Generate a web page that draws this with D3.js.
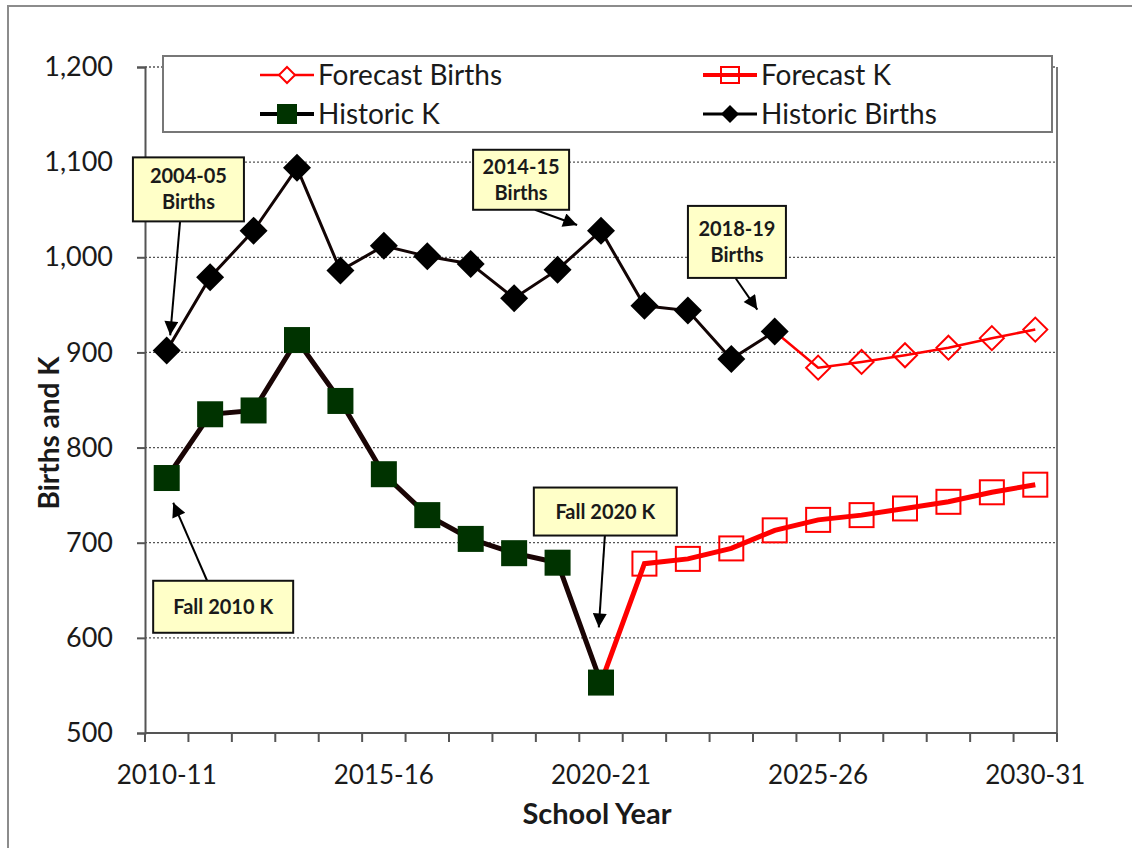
<!DOCTYPE html>
<html>
<head>
<meta charset="utf-8">
<script src="https://cdn.jsdelivr.net/npm/d3@7"></script>
<style>
  body { margin: 0; background: #fff; }
  text { font-family: Lato, "Open Sans", sans-serif; fill: #1a1a1a; }
</style>
</head>
<body>
<div id="vis-div"></div>
<script>
'use strict'

// school years on the x axis
const years = ["2010-11", "2011-12", "2012-13", "2013-14", "2014-15", "2015-16", "2016-17",
  "2017-18", "2018-19", "2019-20", "2020-21", "2021-22", "2022-23", "2023-24", "2024-25",
  "2025-26", "2026-27", "2027-28", "2028-29", "2029-30", "2030-31"]
const yearLabels = ["2010-11", "2015-16", "2020-21", "2025-26", "2030-31"]
const yTicks = [500, 600, 700, 800, 900, 1000, 1100, 1200]

// values
const historicBirths = [902, 979, 1028, 1094, 986, 1012, 1001, 993, 957, 987, 1028, 949, 944, 893, 922]
const forecastBirths = [884, 890, 897, 905, 915, 924]          // 2025-26 .. 2030-31
const historicK = [768, 835, 839, 913, 849, 772, 729, 704, 689, 679, 553]
const forecastK = [678, 683, 694, 713, 724, 729, 736, 743, 753, 761] // 2021-22 .. 2030-31

// callouts: box centre as a year index, top as a value; arrow from/to in the same units
const callouts = [
  { lines: ["2004-05", "Births"], at: 0.5, top: 1105, w: 111, h: 64, from: [0.31, 1039], to: [0.08, 918] },
  { lines: ["2014-15", "Births"], at: 8.16, top: 1113, w: 96, h: 60, from: [8.48, 1050], to: [9.45, 1034] },
  { lines: ["2018-19", "Births"], at: 13.13, top: 1054, w: 98, h: 72, from: [13.1, 978], to: [13.6, 945] },
  { lines: ["Fall 2010 K"], at: 1.3, top: 660, w: 140, h: 52, from: [0.93, 660], to: [0.15, 742] },
  { lines: ["Fall 2020 K"], at: 10.1, top: 758, w: 143, h: 48, from: [10.09, 708], to: [9.95, 611] }
]

const width = 1132, height = 848
const margin = { left: 145, right: 75, top: 67, bottom: 115 }

const svg = d3.select("#vis-div").append("svg")
  .attr("width", width)
  .attr("height", height)

// outer frame
svg.append("rect")
  .attr("x", 8).attr("y", 6)
  .attr("width", 1140).attr("height", 870)
  .attr("fill", "#fff")
  .attr("stroke", "#8c8c8c")
  .attr("stroke-width", 2)

const x = d3.scaleBand().domain(years).range([margin.left, width - margin.right])
const cx = d => x(d) + x.bandwidth() / 2
// same axis, by fractional year index (for annotations)
const xi = d3.scaleLinear().domain([-0.5, years.length - 0.5]).range([margin.left, width - margin.right])
const y = d3.scaleLinear().domain([500, 1200]).range([height - margin.bottom, margin.top])

// dotted gridlines
svg.append("g")
  .selectAll("line")
  .data(yTicks.filter(d => d > 500))
  .enter().append("line")
    .attr("x1", margin.left).attr("x2", width - margin.right)
    .attr("y1", d => y(d)).attr("y2", d => y(d))
    .attr("stroke", "#555")
    .attr("stroke-width", 1.3)
    .attr("stroke-dasharray", "2,2")

// y axis
const yAxis = svg.append("g")
  .attr("transform", "translate(" + margin.left + ",0)")
  .call(d3.axisLeft(y).tickValues(yTicks).tickFormat(d3.format(",")).tickSize(8).tickPadding(24))
yAxis.select(".domain").attr("stroke", "#555").attr("stroke-width", 2)
yAxis.selectAll(".tick line").attr("stroke", "#555").attr("stroke-width", 2)
yAxis.selectAll(".tick text").style("font-size", "27px").attr("fill", "#1a1a1a")

// right border of the plot
svg.append("line")
  .attr("x1", width - margin.right).attr("x2", width - margin.right)
  .attr("y1", margin.top).attr("y2", height - margin.bottom)
  .attr("stroke", "#777").attr("stroke-width", 2)

// x axis: ticks sit between categories
const xg = svg.append("g")
  .attr("transform", "translate(0," + (height - margin.bottom) + ")")
xg.append("line")
  .attr("x1", margin.left).attr("x2", width - margin.right)
  .attr("stroke", "#555").attr("stroke-width", 2)
xg.selectAll(".xtick")
  .data(d3.range(years.length + 1))
  .enter().append("line")
    .attr("class", "xtick")
    .attr("x1", d => xi(d - 0.5))
    .attr("x2", d => xi(d - 0.5))
    .attr("y1", 0).attr("y2", 9)
    .attr("stroke", "#555").attr("stroke-width", 2)
xg.selectAll(".xlabel")
  .data(yearLabels)
  .enter().append("text")
    .attr("x", d => cx(d))
    .attr("y", 51)
    .attr("text-anchor", "middle")
    .style("font-size", "26px")
    .text(d => d)

svg.append("text")
  .attr("x", 597).attr("y", 824)
  .attr("text-anchor", "middle")
  .style("font-size", "29px").style("font-weight", "bold")
  .text("School Year")

svg.append("text")
  .attr("transform", "translate(59,433) rotate(-90)")
  .attr("text-anchor", "middle")
  .style("font-size", "28px").style("font-weight", "bold")
  .text("Births and K")

// series points
const hb = historicBirths.map((v, i) => ({ year: years[i], value: v }))
const fb = forecastBirths.map((v, i) => ({ year: years[i + 15], value: v }))
const hk = historicK.map((v, i) => ({ year: years[i], value: v }))
const fk = forecastK.map((v, i) => ({ year: years[i + 11], value: v }))

const line = d3.line().x(d => cx(d.year)).y(d => y(d.value))
const diamond = r => "M0," + (-r) + "L" + r + ",0L0," + r + "L" + (-r) + ",0Z"

// forecast lines start at last historic point
svg.append("path")
  .datum([hb[hb.length - 1]].concat(fb))
  .attr("d", line)
  .attr("fill", "none").attr("stroke", "#ff0000").attr("stroke-width", 2.5)
svg.append("path")
  .datum([hk[hk.length - 1]].concat(fk))
  .attr("d", line)
  .attr("fill", "none").attr("stroke", "#ff0000").attr("stroke-width", 5)

svg.append("path")
  .datum(hb)
  .attr("d", line)
  .attr("fill", "none").attr("stroke", "#120404").attr("stroke-width", 3)
svg.append("path")
  .datum(hk)
  .attr("d", line)
  .attr("fill", "none").attr("stroke", "#1a0505").attr("stroke-width", 5)

svg.append("g").selectAll("path")
  .data(fb)
  .enter().append("path")
    .attr("transform", d => "translate(" + cx(d.year) + "," + y(d.value) + ")")
    .attr("d", diamond(12))
    .attr("fill", "none").attr("stroke", "#ff0000").attr("stroke-width", 2)

svg.append("g").selectAll("rect")
  .data(fk)
  .enter().append("rect")
    .attr("x", d => cx(d.year) - 12).attr("y", d => y(d.value) - 12)
    .attr("width", 24).attr("height", 24)
    .attr("fill", "none").attr("stroke", "#ff0000").attr("stroke-width", 2)

svg.append("g").selectAll("path")
  .data(hb)
  .enter().append("path")
    .attr("transform", d => "translate(" + cx(d.year) + "," + y(d.value) + ")")
    .attr("d", diamond(14))
    .attr("fill", "#000")

svg.append("g").selectAll("rect")
  .data(hk)
  .enter().append("rect")
    .attr("x", d => cx(d.year) - 13).attr("y", d => y(d.value) - 13)
    .attr("width", 26).attr("height", 26)
    .attr("fill", "#003300")

// legend
const lg = svg.append("g")
lg.append("rect")
  .attr("x", 163).attr("y", 56).attr("width", 889).attr("height", 76)
  .attr("fill", "#fff").attr("stroke", "#777").attr("stroke-width", 2)

const legendItems = [
  { name: "Forecast Births", lx: 260, ly: 75, color: "#ff0000", lw: 2.5, mark: "odiamond" },
  { name: "Forecast K", lx: 703, ly: 75, color: "#ff0000", lw: 4, mark: "osquare" },
  { name: "Historic K", lx: 260, ly: 114, color: "#000", lw: 4, mark: "square" },
  { name: "Historic Births", lx: 703, ly: 114, color: "#000", lw: 3, mark: "diamond" }
]
legendItems.forEach(function(d){
  lg.append("line")
    .attr("x1", d.lx).attr("x2", d.lx + 54)
    .attr("y1", d.ly).attr("y2", d.ly)
    .attr("stroke", d.color).attr("stroke-width", d.lw)
  const m = d.lx + 27
  if (d.mark == "odiamond") {
    lg.append("path").attr("transform", "translate(" + m + "," + d.ly + ")")
      .attr("d", diamond(8)).attr("fill", "#fff").attr("stroke", "#ff0000").attr("stroke-width", 2)
  } else if (d.mark == "osquare") {
    lg.append("rect").attr("x", m - 9).attr("y", d.ly - 8).attr("width", 18).attr("height", 16)
      .attr("fill", "none").attr("stroke", "#ff0000").attr("stroke-width", 2)
  } else if (d.mark == "square") {
    lg.append("rect").attr("x", m - 10).attr("y", d.ly - 10).attr("width", 20).attr("height", 20)
      .attr("fill", "#003300")
  } else {
    lg.append("path").attr("transform", "translate(" + m + "," + d.ly + ")")
      .attr("d", diamond(9)).attr("fill", "#000")
  }
  lg.append("text")
    .attr("x", d.lx + 58).attr("y", d.ly + 10)
    .style("font-size", "28px")
    .text(d.name)
})

// callouts with arrows
svg.append("defs").append("marker")
  .attr("id", "arrow")
  .attr("viewBox", "0 0 10 10")
  .attr("refX", 10).attr("refY", 5)
  .attr("markerWidth", 8).attr("markerHeight", 7)
  .attr("markerUnits", "strokeWidth")
  .attr("orient", "auto")
  .append("path").attr("d", "M0,0L10,5L0,10Z").attr("fill", "#000")

callouts.forEach(function(c){
  svg.append("line")
    .attr("x1", xi(c.from[0])).attr("y1", y(c.from[1]))
    .attr("x2", xi(c.to[0])).attr("y2", y(c.to[1]))
    .attr("stroke", "#000").attr("stroke-width", 2)
    .attr("marker-end", "url(#arrow)")
  const bx = xi(c.at), by = y(c.top)
  const g = svg.append("g")
  g.append("rect")
    .attr("x", bx - c.w / 2).attr("y", by)
    .attr("width", c.w).attr("height", c.h)
    .attr("fill", "#ffffc8").attr("stroke", "#111").attr("stroke-width", 2)
  c.lines.forEach(function(t, i){
    g.append("text")
      .attr("x", bx)
      .attr("y", by + c.h / 2 + (i - (c.lines.length - 1) / 2) * 26 + 7)
      .attr("text-anchor", "middle")
      .style("font-size", "20px").style("font-weight", "bold")
      .text(t)
  })
})
</script>
</body>
</html>
